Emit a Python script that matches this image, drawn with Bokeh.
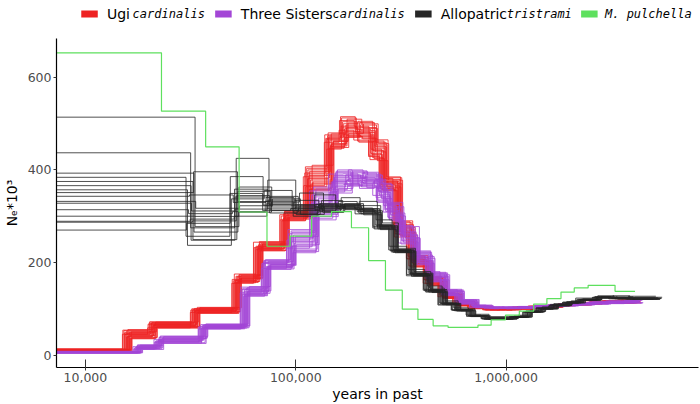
import math
from bokeh.plotting import figure
from bokeh.models import Range1d, FixedTicker, NumeralTickFormatter
from bokeh.layouts import column
from bokeh.embed import file_html
from bokeh.resources import INLINE
from bokeh.core.properties import value

# ---------------- data: times in years, Ne in thousands ----------------
# M. pulchella (single PSMC curve): segment boundaries and Ne per segment
green_t = [3000, 23000, 37300, 53800, 73000, 94000, 119000, 148000, 184000, 222000,
           267000, 321000, 381000, 450000, 530000, 735000, 849000, 993000, 1156000,
           1352000, 1563000, 1824000, 2109000, 2455000, 3296000, 4102000]
green_ne = [653, 527, 450, 309, 235, 257, 300, 310, 275, 204, 140, 99, 77, 63, 59.5,
            64.5, 76, 86, 95, 110, 122, 136, 145, 150.5, 137.6]

# Allopatric tristrami bootstraps: boundaries, low / high envelope per segment
black_t = [3000, 31800, 51400, 73600, 100000, 130000, 163700, 201400, 245500, 292400,
           354800, 426600, 501200, 579400, 682300, 803500, 1096000, 1268000, 1466000,
           1687000, 1959000, 2265000, 2716000, 3236000, 3890000, 5248000]
black_lo = [270, 237, 300, 307, 300, 308, 314, 303, 271, 221, 170, 135, 108, 95, 83, 77,
            81, 92, 99, 106, 112, 118, 123, 121, 120]
black_hi = [514, 396, 425, 378, 350, 346, 340, 332, 292, 235, 185, 149, 117, 102, 88, 83,
            86, 97, 104, 111, 117, 123, 128, 128, 127]
black_first = [270, 287, 289, 300, 314, 328, 332, 343, 351, 357, 366, 375, 384, 393, 437, 514]

# Ugi cardinalis bootstraps
red_t = [3000, 15850, 20890, 33340, 52480, 66530, 88720, 114800, 144500, 169800, 199500,
         234400, 263000, 306200, 354800, 426600, 501200, 588800, 691800, 812800, 955000,
         1122000, 1318000, 1549000, 1820000, 2138000, 2512000, 2951000, 3467000, 4169000]
red_lo = [9, 35, 58, 90, 155, 225, 290, 355, 445, 470, 460, 420, 355, 255, 190, 150, 122,
          106, 100, 97, 97, 99, 101, 103, 106, 108, 110, 112, 112]
red_hi = [13, 55, 72, 103, 175, 245, 312, 410, 480, 515, 505, 465, 385, 290, 215, 170, 135,
          115, 106, 102, 102, 104, 106, 108, 111, 114, 116, 118, 119]

# Three Sisters cardinalis bootstraps
purple_t = [3000, 17780, 22390, 36310, 57540, 72440, 95500, 123000, 151400, 177800, 208900,
            245500, 275400, 316200, 371500, 436500, 512900, 602600, 707900, 831800, 977200,
            1148000, 1349000, 1585000, 1862000, 2188000, 2570000, 3020000, 3548000, 4266000]
purple_lo = [4, 12, 25, 56, 127, 185, 221, 292, 350, 365, 360, 330, 290, 240, 195, 158, 128,
             110, 102, 100, 100, 101, 102, 104, 106, 108, 110, 111, 112]
purple_hi = [8, 22, 41, 67, 148, 206, 271, 363, 400, 400, 395, 380, 330, 280, 225, 180, 142,
             120, 108, 104, 104, 105, 107, 109, 111, 113, 115, 117, 118]

# bootstrap placement within the envelopes and their time-scaling offsets (log10)
boot_pos = [0.0, 0.55, 0.1, 0.82, 0.3, 0.66, 0.05, 0.94, 0.42, 0.2, 0.76, 0.47, 1.0, 0.16,
            0.6, 0.35, 0.88, 0.26, 0.7, 0.5]
boot_shift = [-0.022, 0.006, -0.004, 0.018, -0.012, 0.002, 0.022, -0.008, 0.012, -0.017,
              0.0, 0.009, -0.024, 0.014, -0.002, 0.019, -0.006, 0.004, -0.014, 0.010]

x_ticks = [10000, 100000, 1000000]
y_ticks = [0, 200, 400, 600]

RED = "#EE2222"
PURPLE = "#A346D6"
BLACK = "#262626"
GREEN = "#5EE05E"


def step_xy(bounds, vals):
    xs, ys = [], []
    for i, v in enumerate(vals):
        xs += [bounds[i], bounds[i + 1]]
        ys += [v, v]
    return xs, ys


def bootstraps(bounds, lo, hi, pos, shifts):
    n = len(pos)
    all_x, all_y = [], []
    for b in range(n):
        f = 10 ** shifts[b]
        bb = [t * f for t in bounds]
        vals = [lo[s] + pos[(b + 7 * s) % n] * (hi[s] - lo[s]) for s in range(len(lo))]
        xs, ys = step_xy(bb, vals)
        all_x.append(xs)
        all_y.append(ys)
    return all_x, all_y


black_pos = [(v - black_lo[0]) / (black_hi[0] - black_lo[0]) for v in black_first]

# ---------------- main plot ----------------
p = figure(width=700, height=366, x_axis_type="log",
           x_range=Range1d(7289, 8.217e6), y_range=Range1d(-27, 684),
           output_backend="svg", toolbar_location=None,
           min_border_left=54, min_border_right=2, min_border_top=0, min_border_bottom=0)
p.outline_line_color = None
p.xgrid.visible = False
p.ygrid.visible = False
p.background_fill_color = "white"

rx, ry = bootstraps(red_t, red_lo, red_hi, boot_pos, boot_shift)
p.multi_line(rx, ry, line_color=RED, line_width=1.0, line_alpha=0.8)
px_, py_ = bootstraps(purple_t, purple_lo, purple_hi, boot_pos, boot_shift[::-1])
p.multi_line(px_, py_, line_color=PURPLE, line_width=1.0, line_alpha=0.8)
bx, by = bootstraps(black_t, black_lo, black_hi, black_pos, boot_shift[:16])
p.multi_line(bx, by, line_color=BLACK, line_width=1.0, line_alpha=0.8)
gx, gy = step_xy(green_t, green_ne)
p.line(gx, gy, line_color=GREEN, line_width=1.2)

minor = [m * 10 ** e for e in range(3, 7) for m in range(2, 10)]
p.xaxis.ticker = FixedTicker(ticks=x_ticks, minor_ticks=minor)
p.xaxis.formatter = NumeralTickFormatter(format="0,0")
p.xaxis.major_tick_in = 8
p.xaxis.major_tick_out = 3
p.xaxis.minor_tick_in = 3
p.xaxis.minor_tick_out = 0
p.xaxis.major_label_standoff = 2
p.xaxis.axis_label = "years in past"
p.xaxis.axis_label_standoff = 1

p.yaxis.ticker = FixedTicker(ticks=y_ticks)
p.yaxis.major_tick_in = 0
p.yaxis.major_tick_out = 3
p.yaxis.minor_tick_line_color = None
p.yaxis.major_label_standoff = 2
p.yaxis.axis_label = "N\u2091*10\u00b3"
p.yaxis.axis_label_standoff = 5

for ax in (p.xaxis, p.yaxis):
    ax.axis_line_color = "black"
    ax.axis_line_width = 1.2
    ax.major_tick_line_color = "#333333"
    ax.minor_tick_line_color = "#333333" if ax is p.xaxis else None
    ax.major_label_text_font = "DejaVu Sans"
    ax.major_label_text_font_size = "12.5px"
    ax.major_label_text_color = "#4D4D4D"
    ax.axis_label_text_font = "DejaVu Sans"
    ax.axis_label_text_font_size = "14px"
    ax.axis_label_text_font_style = "normal"
    ax.axis_label_text_color = "black"

# ---------------- legend strip ----------------
leg = figure(width=700, height=38, x_range=Range1d(0, 700), y_range=Range1d(38, 0),
             output_backend="svg", toolbar_location=None,
             min_border=0, min_border_left=0, min_border_right=0,
             min_border_top=0, min_border_bottom=0)
leg.axis.visible = False
leg.grid.visible = False
leg.outline_line_color = None

leg_labels = ["Ugi", "Three Sisters", "Allopatric"]
leg_italic = ["cardinalis", "cardinalis", "tristrami", "M. pulchella"]
leg_colors = [RED, PURPLE, BLACK, GREEN]
key_x = [36, 182, 400, 581]
reg_x = [55, 201, 419]
ital_x = [83, 301, 491, 598]
YC = 13.5
leg.rect(key_x, [YC] * 4, width=18, height=7, fill_color=leg_colors, line_color=None)
leg.text(reg_x, [YC] * 3, text=leg_labels, text_font=value("DejaVu Sans"),
         text_font_size="14px", text_baseline="middle", text_align="left",
         text_color="black")
leg.text(ital_x, [YC] * 4, text=leg_italic, text_font=value("DejaVu Sans Mono"),
         text_font_size="12px", text_font_style="italic", text_baseline="middle",
         text_align="left", text_color="black")

layout = column(leg, p, spacing=0)
open("out.html", "w").write(file_html(layout, INLINE))
